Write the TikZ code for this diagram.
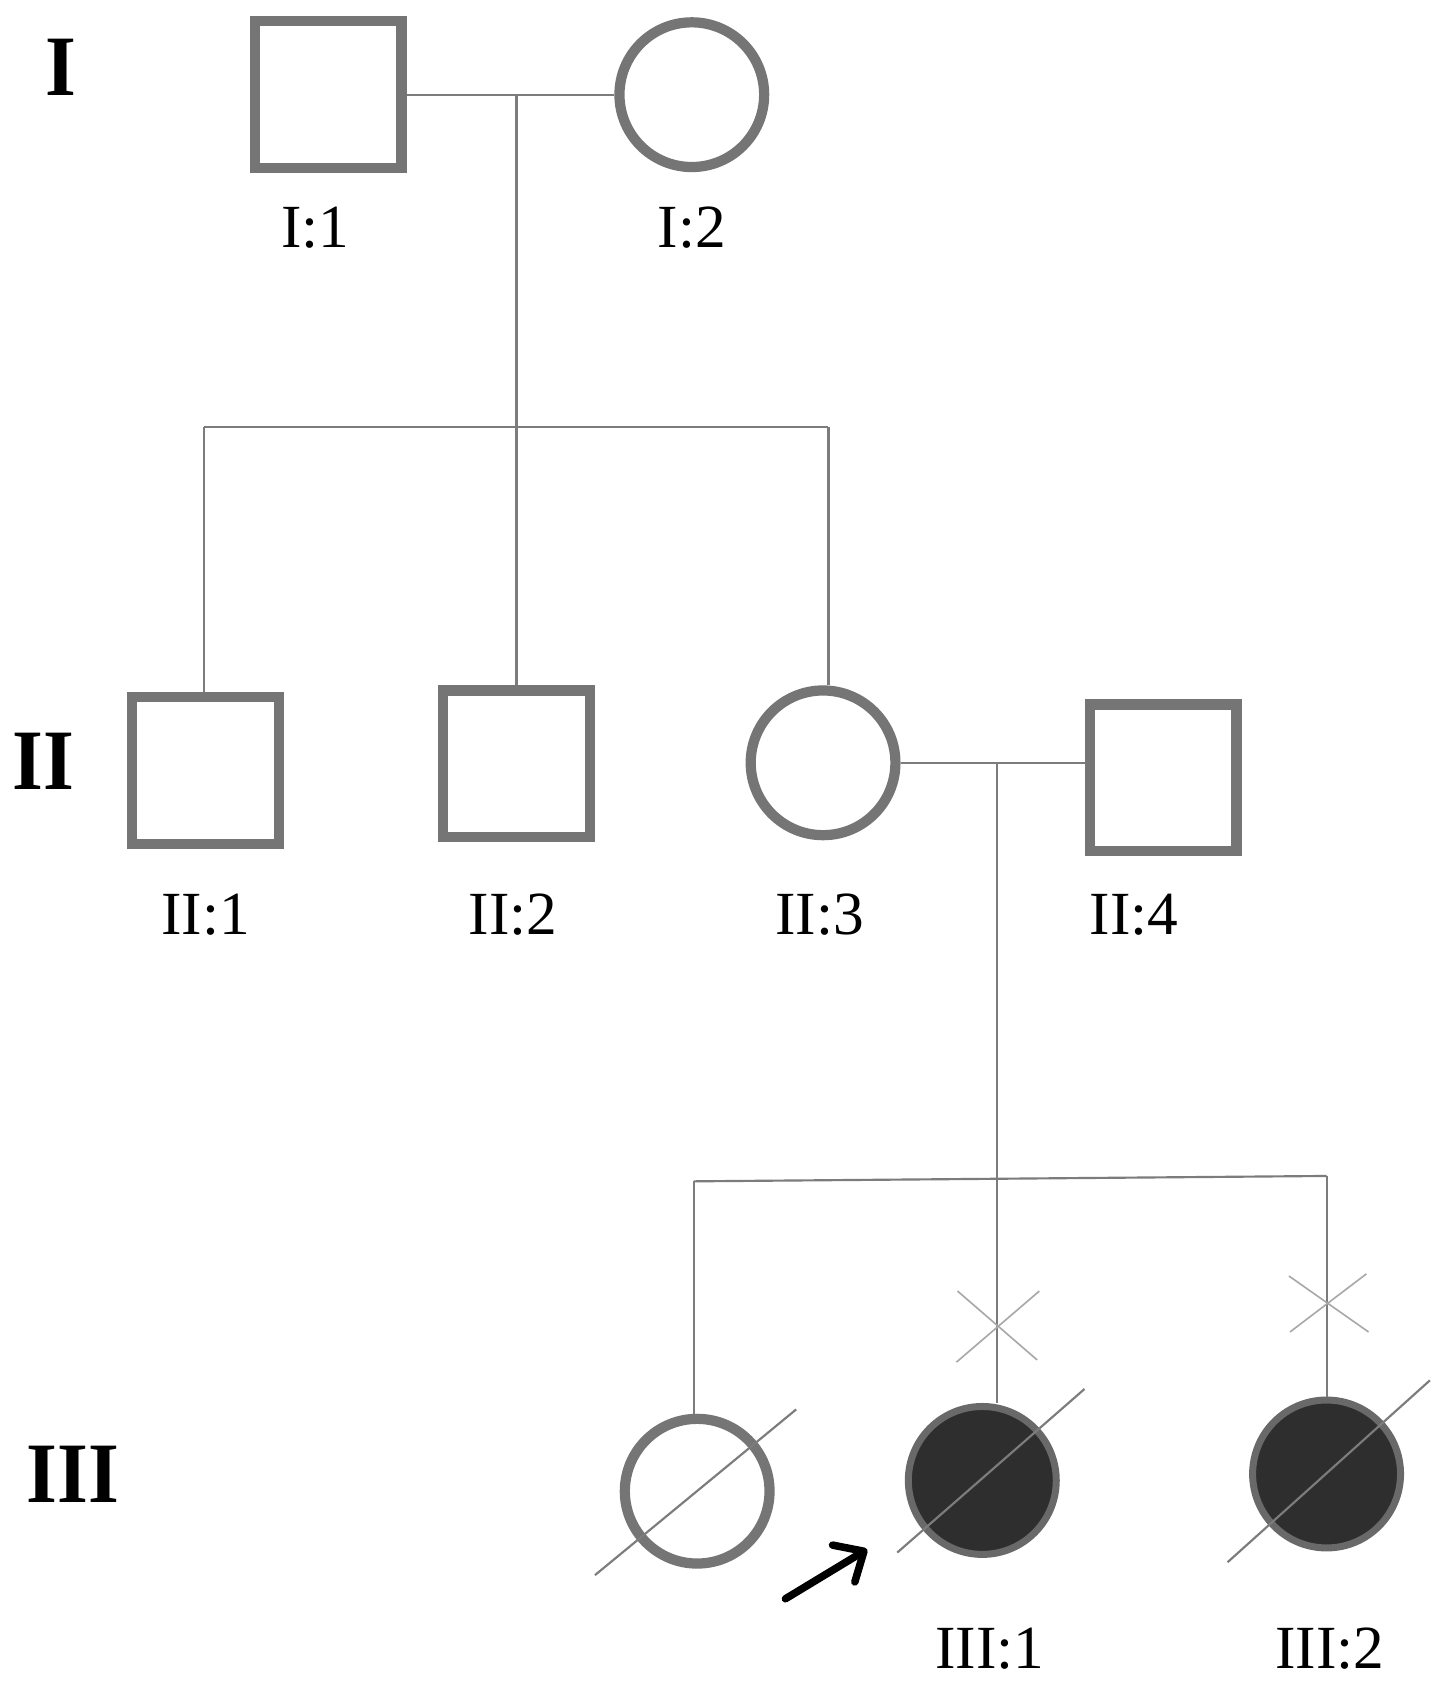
\documentclass[tikz,border=0pt]{standalone}
\usepackage{fontspec}
\setmainfont{Liberation Serif}
\newfontfamily\genfont{Liberation Serif}[FakeStretch=0.92]
\usetikzlibrary{arrows.meta}
\definecolor{symgray}{HTML}{757575}
\definecolor{linegray}{HTML}{7C7C7C}
\definecolor{xgray}{HTML}{A8A8A8}
\definecolor{darkfill}{HTML}{2E2E2E}
\begin{document}
\begin{tikzpicture}[x=1pt,y=1pt,
  male/.style={rectangle,draw=symgray,line width=9.5pt,minimum size=136.5pt,inner sep=0pt,fill=white},
  female/.style={circle,draw=symgray,line width=9.5pt,minimum size=134.5pt,inner sep=0pt,fill=white},
  affected/.style={fill=darkfill,draw=symgray!90!black,line width=6.5pt,minimum size=137.5pt},
  link/.style={draw=linegray,line width=2pt},
  slash/.style={draw=linegray,line width=2pt},
  xmark/.style={draw=xgray,line width=1.5pt},
  lab/.style={font=\fontsize{57}{60}\selectfont,inner sep=0pt},
  gen/.style={font=\genfont\fontsize{80}{84}\selectfont\bfseries,inner sep=0pt}]
\useasboundingbox (0,0) rectangle (1339,-1568);
\fill[white] (0,0) rectangle (1339,-1568);

% generation I
\node[male] (I1) at (305,-88) {};
\node[female] (I2) at (643,-88) {};
% generation II
\node[male] (II1) at (191,-716) {};
\node[male] (II2) at (480,-710) {};
\node[female] (II3) at (765,-709) {};
\node[male] (II4) at (1081,-723) {};
% generation III
\node[female] (III0) at (648,-1386) {};
\node[female,affected] (III1) at (913,-1376) {};
\node[female,affected] (III2) at (1233,-1370) {};

% coordinates
\coordinate (m1) at (480,-88);
\coordinate (s1) at (480,-397);
\coordinate (s1l) at (190,-397);
\coordinate (s1r) at (770,-397);
\coordinate (m2) at (927,-709);
\coordinate (s2) at (927,-1096);
\coordinate (s2l) at (645,-1098);
\coordinate (s2r) at (1233,-1093);

% connectors gen I
\draw[link] (I1.east) -- (I2.west);
\draw[link] (m1) -- (s1);
\draw[link] (s1l) -- (s1r);
\draw[link] (s1l) -- (s1l |- II1.north);
\draw[link] (s1) -- (II2.north);
\draw[link] (s1r) -- (s1r |- II3.north);
% connectors gen II
\draw[link] (II3.east) -- (II3.east -| II4.west);
\draw[link] (m2) -- (m2 |- III1.north);
\draw[link] (s2l) -- (s2r);
\draw[link] (s2l) -- (s2l |- III0.north);
\draw[link] (s2r) -- (III2.north);

% X marks
\coordinate (x1a) at (890,-1200);
\coordinate (x1b) at (964,-1264);
\coordinate (x1c) at (966,-1200);
\coordinate (x1d) at (889,-1266);
\draw[xmark] (x1a) -- (x1b);
\draw[xmark] (x1c) -- (x1d);
\coordinate (x2a) at (1198,-1186);
\coordinate (x2b) at (1272,-1238);
\coordinate (x2c) at (1270,-1184);
\coordinate (x2d) at (1199,-1238);
\draw[xmark] (x2a) -- (x2b);
\draw[xmark] (x2c) -- (x2d);

% deceased slashes
\coordinate (d0a) at (553,-1464);
\coordinate (d0b) at (740,-1310);
\coordinate (d1a) at (834,-1443);
\coordinate (d1b) at (1008,-1291);
\coordinate (d2a) at (1141,-1452);
\coordinate (d2b) at (1329,-1283);
\draw[slash] (d0a) -- (d0b);
\draw[slash] (d1a) -- (d1b);
\draw[slash] (d2a) -- (d2b);

% proband arrow
\coordinate (pa) at (730,-1486);
\coordinate (pb) at (806,-1440);
\draw[line width=7pt,black,line cap=round,-{Straight Barb[length=22pt,width=40pt,line width=7pt,round]}] (pa) -- (pb);

% labels
\node[lab] (lI1) at (293,-212) {I:1};
\node[lab] (lI2) at (643,-212) {I:2};
\node[lab] (lII1) at (191,-850) {II:1};
\node[lab] (lII2) at (477,-850) {II:2};
\node[lab] (lII3) at (762,-850) {II:3};
\node[lab] (lII4) at (1054,-850) {II:4};
\node[lab] (lIII1) at (920,-1532) {III:1};
\node[lab] (lIII2) at (1236,-1532) {III:2};

% generation labels
\node[gen] (gI) at (57,-63) {I};
\node[gen] (gII) at (40,-708) {II};
\node[gen] (gIII) at (68,-1370) {III};
\end{tikzpicture}
\end{document}
